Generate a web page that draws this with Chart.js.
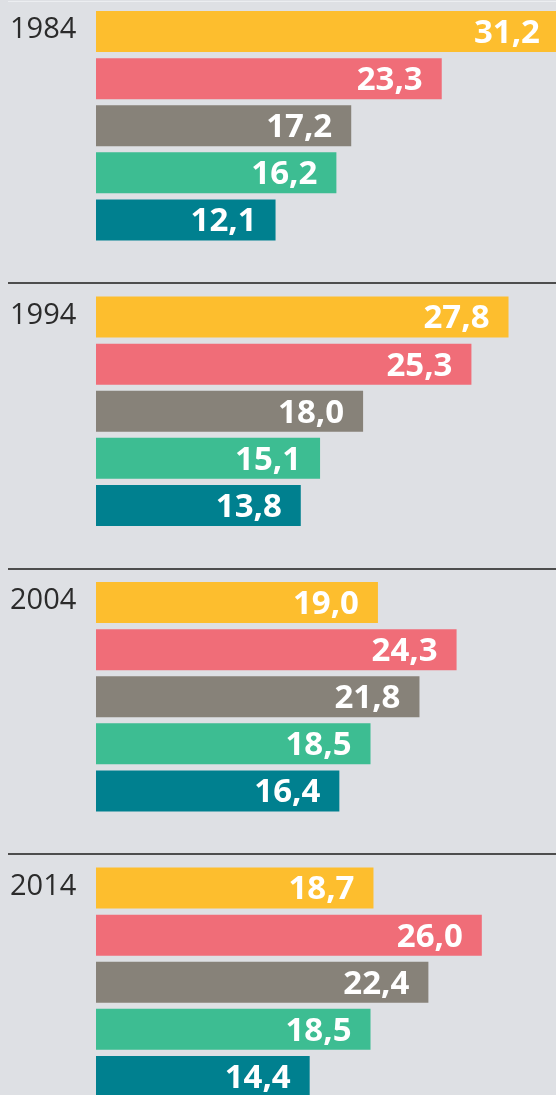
<!DOCTYPE html>
<html>
<head>
<meta charset="utf-8">
<script src="https://cdn.jsdelivr.net/npm/chart.js@4/dist/chart.umd.min.js"></script>
<style>
  html, body { margin: 0; padding: 0; background: #dee0e4; overflow: hidden; }
  body { width: 556px; height: 1095px; position: relative; }
  #wrap { position: absolute; left: 0; top: -17px; width: 556px; height: 1142px; }
</style>
</head>
<body>
<div id="wrap"><canvas id="chart"></canvas></div>
<script>
// Datos
const years = ['1984', '1994', '2004', '2014'];
const serieA = [31.2, 27.8, 19.0, 18.7];
const serieB = [23.3, 25.3, 24.3, 26.0];
const serieC = [17.2, 18.0, 21.8, 22.4];
const serieD = [16.2, 15.1, 18.5, 18.5];
const serieE = [12.1, 13.8, 16.4, 14.4];
const colores = ['#fdbe2e', '#f06d78', '#878279', '#3dbd92', '#00808f'];

function fmt(v) {
    return v.toFixed(1).replace('.', ',');
}

// Líneas separadoras entre los grupos de años
const separadores = {
    id: 'separadores',
    beforeDatasetsDraw(chart) {
        const ctx = chart.ctx;
        const y = chart.scales.y;
        ctx.save();
        ctx.strokeStyle = '#4d4d4d';
        ctx.lineWidth = 2;
        for (let i = 1; i < years.length; i++) {
            const py = Math.round((y.getPixelForValue(i - 1) + y.getPixelForValue(i)) / 2 + 14.5);
            ctx.beginPath();
            ctx.moveTo(8, py);
            ctx.lineTo(chart.width, py);
            ctx.stroke();
        }
        // línea clara arriba del todo
        ctx.strokeStyle = '#eceef1';
        ctx.lineWidth = 1;
        ctx.beginPath();
        ctx.moveTo(8, 18.5);
        ctx.lineTo(chart.width, 18.5);
        ctx.stroke();
        ctx.restore();
    }
};

// Valores dentro de las barras
const etiquetas = {
    id: 'etiquetas',
    afterDatasetsDraw(chart) {
        const ctx = chart.ctx;
        ctx.save();
        ctx.font = 'bold 33px "Open Sans"';
        ctx.fillStyle = '#ffffff';
        ctx.textAlign = 'right';
        ctx.textBaseline = 'middle';
        chart.data.datasets.forEach((ds, di) => {
            chart.getDatasetMeta(di).data.forEach((bar, i) => {
                const xEnd = Math.min(bar.x, chart.width + 3);
                ctx.fillText(fmt(ds.data[i]), xEnd - 19, bar.y + 2);
            });
        });
        ctx.restore();
    }
};

const series = [serieA, serieB, serieC, serieD, serieE];

new Chart(document.getElementById('chart'), {
    type: 'bar',
    data: {
        labels: years,
        datasets: series.map((s, i) => ({
            label: 'Serie ' + (i + 1),
            data: s,
            backgroundColor: colores[i],
            borderWidth: 0,
            categoryPercentage: 0.825,
            barPercentage: 0.87
        }))
    },
    options: {
        indexAxis: 'y',
        responsive: true,
        maintainAspectRatio: false,
        animation: false,
        layout: { padding: { left: 10, right: 0, top: 0, bottom: 0 } },
        plugins: {
            legend: { display: false },
            tooltip: { enabled: false }
        },
        scales: {
            x: {
                display: false,
                min: 0,
                max: 31
            },
            y: {
                grid: { display: false },
                border: { display: false },
                afterFit(scale) {
                    scale.width = 86;
                    scale.paddingTop = 0;
                    scale.paddingBottom = 0;
                },
                ticks: {
                    crossAlign: 'far',
                    padding: 0,
                    labelOffset: -96,
                    color: '#2b2b2b',
                    font: { family: 'Open Sans', size: 29 }
                }
            }
        }
    },
    plugins: [separadores, etiquetas]
});
</script>
</body>
</html>
